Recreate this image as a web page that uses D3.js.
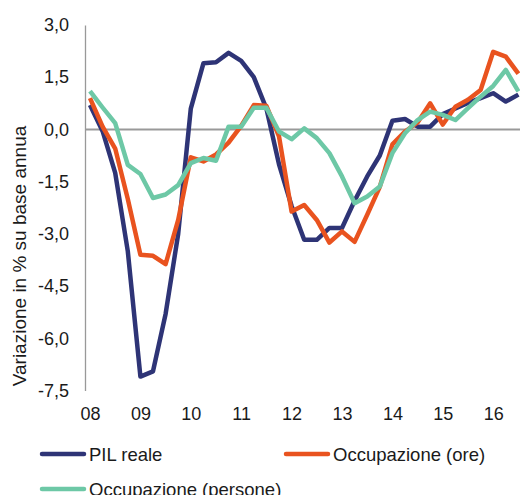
<!DOCTYPE html>
<html>
<head>
<meta charset="utf-8">
<script src="https://cdn.jsdelivr.net/npm/d3@7"></script>
<style>
  html, body { margin: 0; padding: 0; background: #fff; }
  svg { display: block; font-family: "Liberation Sans", Arial, sans-serif; }
</style>
</head>
<body>
<svg id="chart" width="520" height="495"></svg>
<script>
// ---- Data (quarterly, 2008Q1 .. 2016Q3) ----
const quarters = [
  "08Q1","08Q2","08Q3","08Q4","09Q1","09Q2","09Q3","09Q4",
  "10Q1","10Q2","10Q3","10Q4","11Q1","11Q2","11Q3","11Q4",
  "12Q1","12Q2","12Q3","12Q4","13Q1","13Q2","13Q3","13Q4",
  "14Q1","14Q2","14Q3","14Q4","15Q1","15Q2","15Q3","15Q4",
  "16Q1","16Q2","16Q3"
];
const pilReale = [
  0.7, -0.05, -1.25, -3.5, -7.1, -6.95, -5.3, -3.0,
  0.6, 1.9, 1.93, 2.2, 1.97, 1.5, 0.6, -1.0,
  -2.2, -3.17, -3.17, -2.83, -2.83, -2.05, -1.35, -0.75,
  0.25, 0.3, 0.08, 0.08, 0.44, 0.6, 0.76, 0.9,
  1.04, 0.8, 1.0
];
const occOre = [
  0.9, 0.08, -0.55, -2.0, -3.6, -3.63, -3.87, -2.6,
  -0.8, -0.92, -0.72, -0.38, 0.1, 0.7, 0.68, -0.2,
  -2.36, -2.17, -2.6, -3.25, -2.93, -3.23, -2.45, -1.65,
  -0.43, -0.06, 0.2, 0.75, 0.14, 0.65, 0.85, 1.13,
  2.23, 2.09, 1.6
];
const occPersone = [
  1.1, 0.63, 0.18, -1.02, -1.28, -1.97, -1.87, -1.6,
  -0.97, -0.82, -0.9, 0.08, 0.08, 0.62, 0.62, -0.06,
  -0.28, 0.03, -0.25, -0.68, -1.35, -2.12, -1.93, -1.64,
  -0.68, -0.11, 0.27, 0.51, 0.42, 0.27, 0.61, 0.94,
  1.25, 1.71, 1.09
];
const yTicks = [3, 1.5, 0, -1.5, -3, -4.5, -6, -7.5];
const xTickLabels = ["08","09","10","11","12","13","14","15","16"];
const seriesNames = ["PIL reale", "Occupazione (ore)", "Occupazione (persone)"];
const yTitle = "Variazione in % su base annua";

const colors = ["#2e3476", "#e9531f", "#6dc8a6"];

// ---- Scales ----
const svg = d3.select("#chart");
const x = d3.scaleLinear().domain([0, quarters.length - 1]).range([90, 518.4]);
const y = d3.scaleLinear().domain([-7.5, 3]).range([390.5, 25]);

const fmt = v => d3.format(".1f")(v).replace(".", ",").replace("\u2212", "-");

// Y axis
const yAxis = svg.append("g")
  .attr("transform", "translate(85,0)")
  .call(d3.axisLeft(y).tickValues(yTicks).tickFormat(fmt).tickSize(0).tickPadding(16));
yAxis.select(".domain").attr("stroke", "#999").attr("stroke-width", 1.3);
yAxis.selectAll("text").attr("font-size", 18).attr("fill", "#1a1a1a")
  .attr("font-family", "'Liberation Sans', Arial, sans-serif");

// X axis (labels only)
const xTickIdx = xTickLabels.map((d, i) => i * 4);
const xAxis = svg.append("g")
  .attr("transform", "translate(0,391)")
  .call(d3.axisBottom(x).tickValues(xTickIdx)
    .tickFormat((d, i) => xTickLabels[i]).tickSize(0).tickPadding(16));
xAxis.select(".domain").remove();
xAxis.selectAll("text").attr("font-size", 18).attr("fill", "#1a1a1a")
  .attr("font-family", "'Liberation Sans', Arial, sans-serif");

// Zero line
svg.append("line")
  .attr("x1", 85).attr("x2", 520)
  .attr("y1", y(0)).attr("y2", y(0))
  .attr("stroke", "#999").attr("stroke-width", 2);

// Y title
svg.append("text")
  .attr("transform", "translate(26,256) rotate(-90)")
  .attr("text-anchor", "middle")
  .attr("font-size", 19)
  .attr("fill", "#1a1a1a")
  .text(yTitle);

// Lines
const line = d3.line().x((d, i) => x(i)).y(d => y(d));
[pilReale, occOre, occPersone].forEach((s, k) => {
  svg.append("path")
    .datum(s)
    .attr("d", line)
    .attr("fill", "none")
    .attr("stroke", colors[k])
    .attr("stroke-width", 4.5)
    .attr("stroke-linejoin", "round");
});

// Legend
const legendPos = [
  {lx: 40, ly: 454},
  {lx: 284, ly: 454},
  {lx: 40, ly: 489}
];
seriesNames.forEach((name, k) => {
  const p = legendPos[k];
  svg.append("line")
    .attr("x1", p.lx + 2).attr("x2", p.lx + 44)
    .attr("y1", p.ly).attr("y2", p.ly)
    .attr("stroke", colors[k]).attr("stroke-width", 4.5)
    .attr("stroke-linecap", "round");
  svg.append("text")
    .attr("x", p.lx + 49).attr("y", p.ly + 6.5)
    .attr("font-size", 18.5).attr("fill", "#1a1a1a")
    .text(name);
});
</script>
</body>
</html>
